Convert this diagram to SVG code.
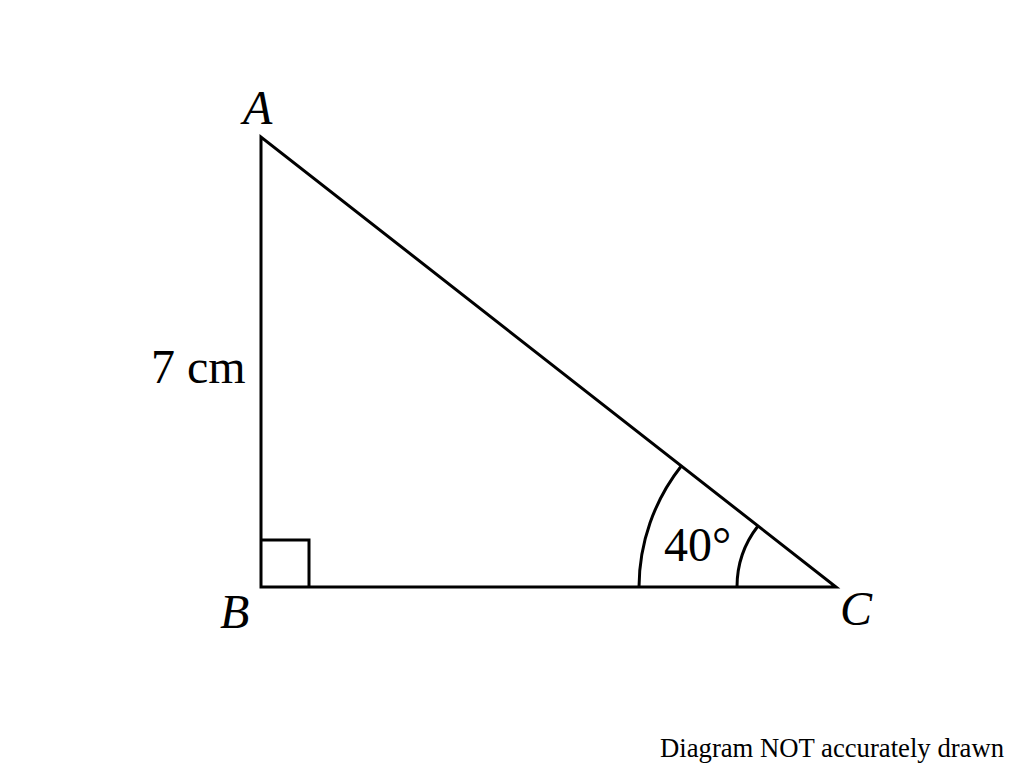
<svg xmlns="http://www.w3.org/2000/svg" width="1024" height="765" viewBox="0 0 1024 765">
<style>
.ln{fill:none;stroke:#000;stroke-width:3;stroke-linejoin:miter}
.t{font-family:"Liberation Serif",serif;fill:#000}
.it{font-style:italic}
</style>
<rect width="1024" height="765" fill="#fff"/>
<g id="triangle">
<path class="ln" d="M261,137 L261,587 L836,587 Z"/>
<path class="ln" d="M261,540 L309,540 L309,587"/>
</g>
<g id="angle">
<path class="ln" d="M639,587 A197,197 0 0 1 681.5,465.7"/>
<path class="ln" d="M737,587 A99,99 0 0 1 758,526"/>
<text class="t" x="664" y="561" font-size="48">40°</text>
</g>
<g id="labels">
<text class="t it" x="243" y="124" font-size="48">A</text>
<text class="t it" x="220" y="628" font-size="48">B</text>
<text class="t it" x="840" y="625" font-size="48">C</text>
<text class="t" x="151" y="383" font-size="48">7 cm</text>
<text class="t" x="660" y="757" font-size="26.7">Diagram NOT accurately drawn</text>
</g>
</svg>
